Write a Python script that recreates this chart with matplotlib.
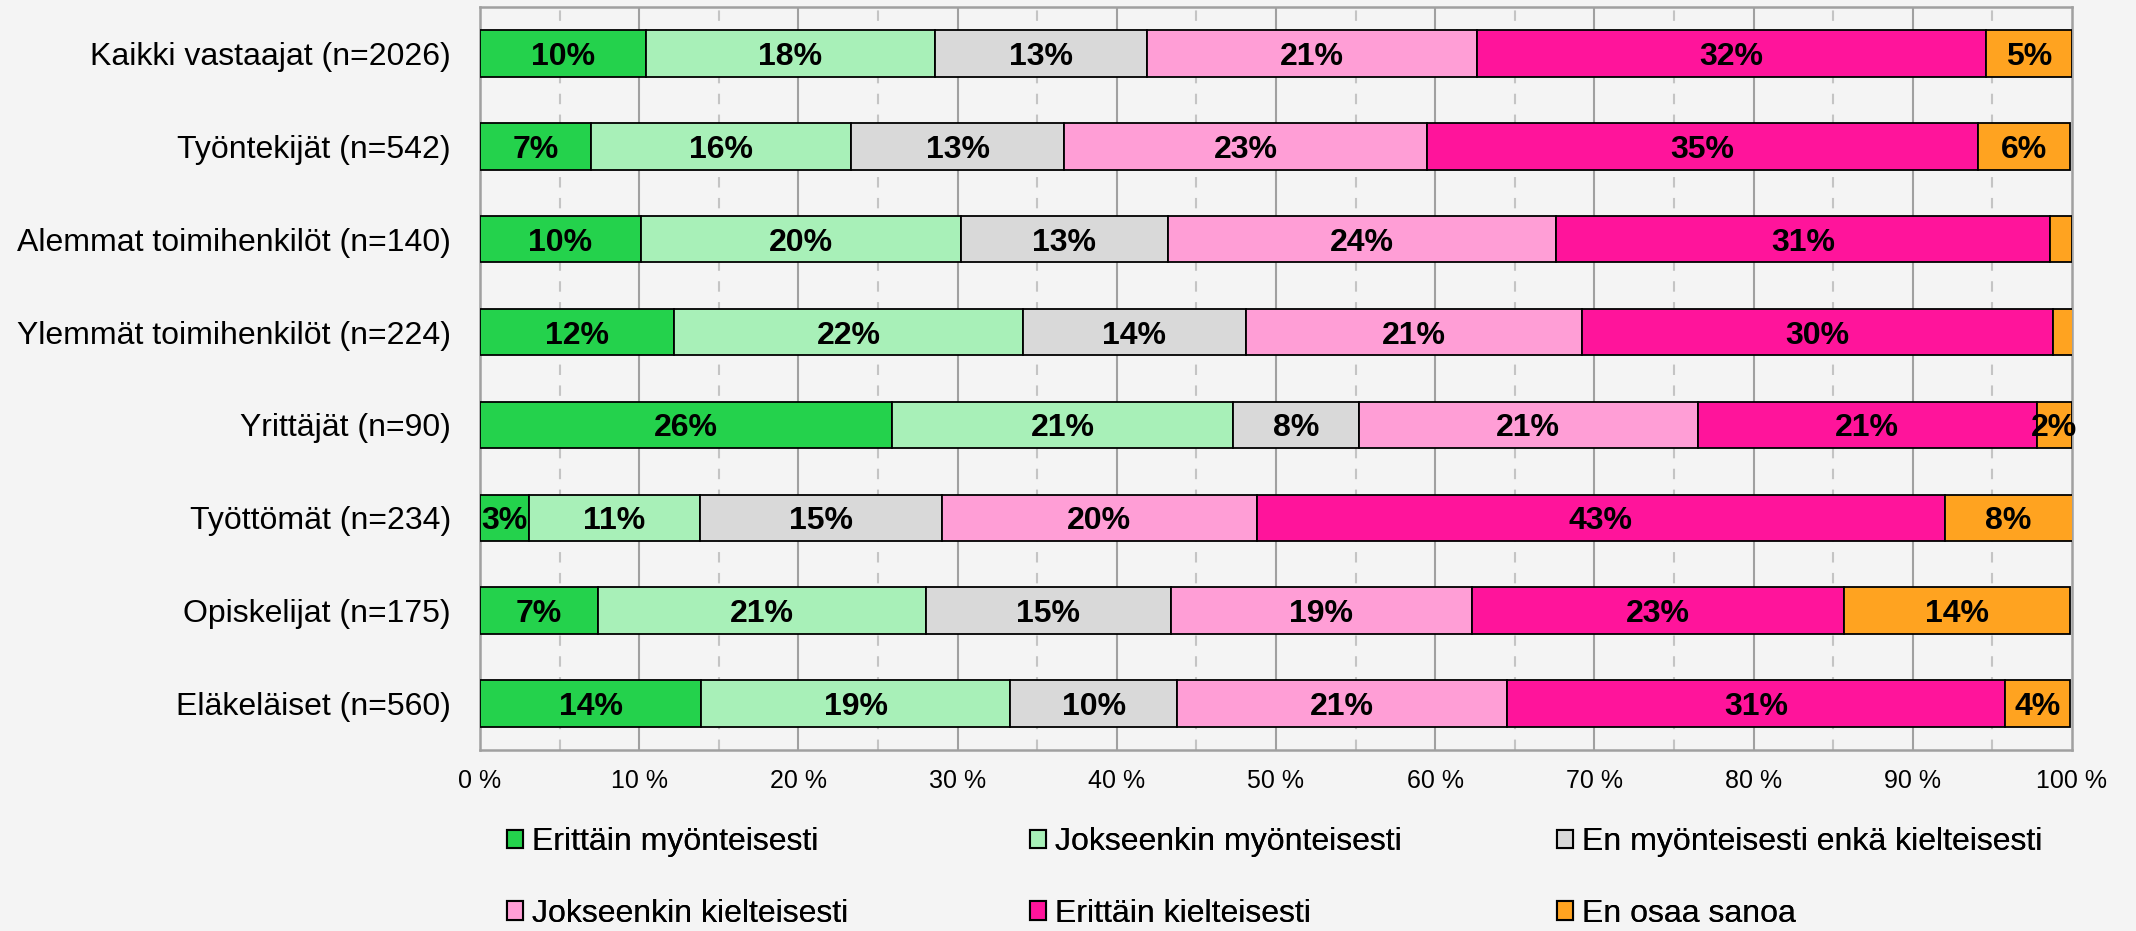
import matplotlib
matplotlib.use("Agg")
import numpy as np
import matplotlib.pyplot as plt
from matplotlib.patches import Patch

plt.rcParams['font.family'] = ['Liberation Sans', 'DejaVu Sans']

groups = ["Kaikki vastaajat (n=2026)", "Työntekijät (n=542)", "Alemmat toimihenkilöt (n=140)",
          "Ylemmät toimihenkilöt (n=224)", "Yrittäjät (n=90)", "Työttömät (n=234)",
          "Opiskelijat (n=175)", "Eläkeläiset (n=560)"]

answers = ["Erittäin myönteisesti", "Jokseenkin myönteisesti", "En myönteisesti enkä kielteisesti",
           "Jokseenkin kielteisesti", "Erittäin kielteisesti", "En osaa sanoa"]

erittain_myont = [10.4, 7.0, 10.1, 12.2, 25.9, 3.1, 7.4, 13.9]
jokseenkin_myont = [18.2, 16.3, 20.1, 21.9, 21.4, 10.7, 20.6, 19.4]
neutraali = [13.3, 13.4, 13.0, 14.0, 7.9, 15.2, 15.4, 10.5]
jokseenkin_kielt = [20.7, 22.8, 24.4, 21.1, 21.3, 19.8, 18.9, 20.7]
erittain_kielt = [32.0, 34.6, 31.0, 29.6, 21.3, 43.2, 23.4, 31.3]
eos = [5.4, 5.8, 1.4, 1.3, 2.2, 8.1, 14.2, 4.1]

colors = ["#24D24C", "#A8F0B8", "#D9D9D9", "#FF9ED6", "#FF149B", "#FFA320"]
bg = "#F4F4F4"

series = [erittain_myont, jokseenkin_myont, neutraali, jokseenkin_kielt, erittain_kielt, eos]

fig = plt.figure(figsize=(21.36, 9.31), dpi=100, facecolor=bg)
ax = fig.add_axes([0.2247, 0.1944, 0.7453, 0.7981])
ax.set_facecolor(bg)

y = np.arange(len(groups))
left = np.zeros(len(groups))
for vals, col, name in zip(series, colors, answers):
    vals = np.array(vals)
    bars = ax.barh(y, vals, left=left, height=0.5, color=col, edgecolor="black",
                   linewidth=1.3, label=name, zorder=3)
    labels = [f"{int(round(v))}%" if v >= 1.5 else "" for v in vals]
    texts = ax.bar_label(bars, labels=labels, label_type="center", fontsize=23,
                         fontweight="bold", color="black", zorder=4)
    for t in texts:
        t.set_va("center_baseline")
    left += vals

ax.set_xlim(0, 100)
ax.set_ylim(len(groups) - 0.5, -0.5)
ax.set_yticks(y)
ax.set_yticklabels(groups, fontsize=23)
ax.set_xticks(np.arange(0, 101, 10))
ax.set_xticklabels([f"{v} %" for v in range(0, 101, 10)], fontsize=18)
ax.tick_params(axis="both", length=0)
ax.tick_params(axis="y", pad=21)
ax.tick_params(axis="x", pad=14)

# grid: solid every 10 %, dashed every 5 %
for v in range(10, 100, 10):
    ax.axvline(v, color="#A0A0A0", linewidth=1.5, zorder=1)
for v in range(5, 100, 10):
    ax.axvline(v, color="#C4C4C4", linewidth=1.5, linestyle=(0, (5, 5)), zorder=1)

for sp in ax.spines.values():
    sp.set_color("#A0A0A0")
    sp.set_linewidth(1.8)

handles = [Patch(facecolor=c, edgecolor="black", linewidth=1.5) for c in colors]
col_x = [507 / 2136, 1030 / 2136, 1557 / 2136]
for i, x0 in enumerate(col_x):
    leg = fig.legend([handles[i], handles[i + 3]], [answers[i], answers[i + 3]],
                     loc="center left", bbox_to_anchor=(x0, 1 - 878 / 931),
                     frameon=False, fontsize=23, handlelength=0.5, handleheight=0.5,
                     handletextpad=0.28, labelspacing=1.3, borderpad=0, borderaxespad=0)
    fig.add_artist(leg)

fig.savefig("out.png", dpi=100, facecolor=bg)
